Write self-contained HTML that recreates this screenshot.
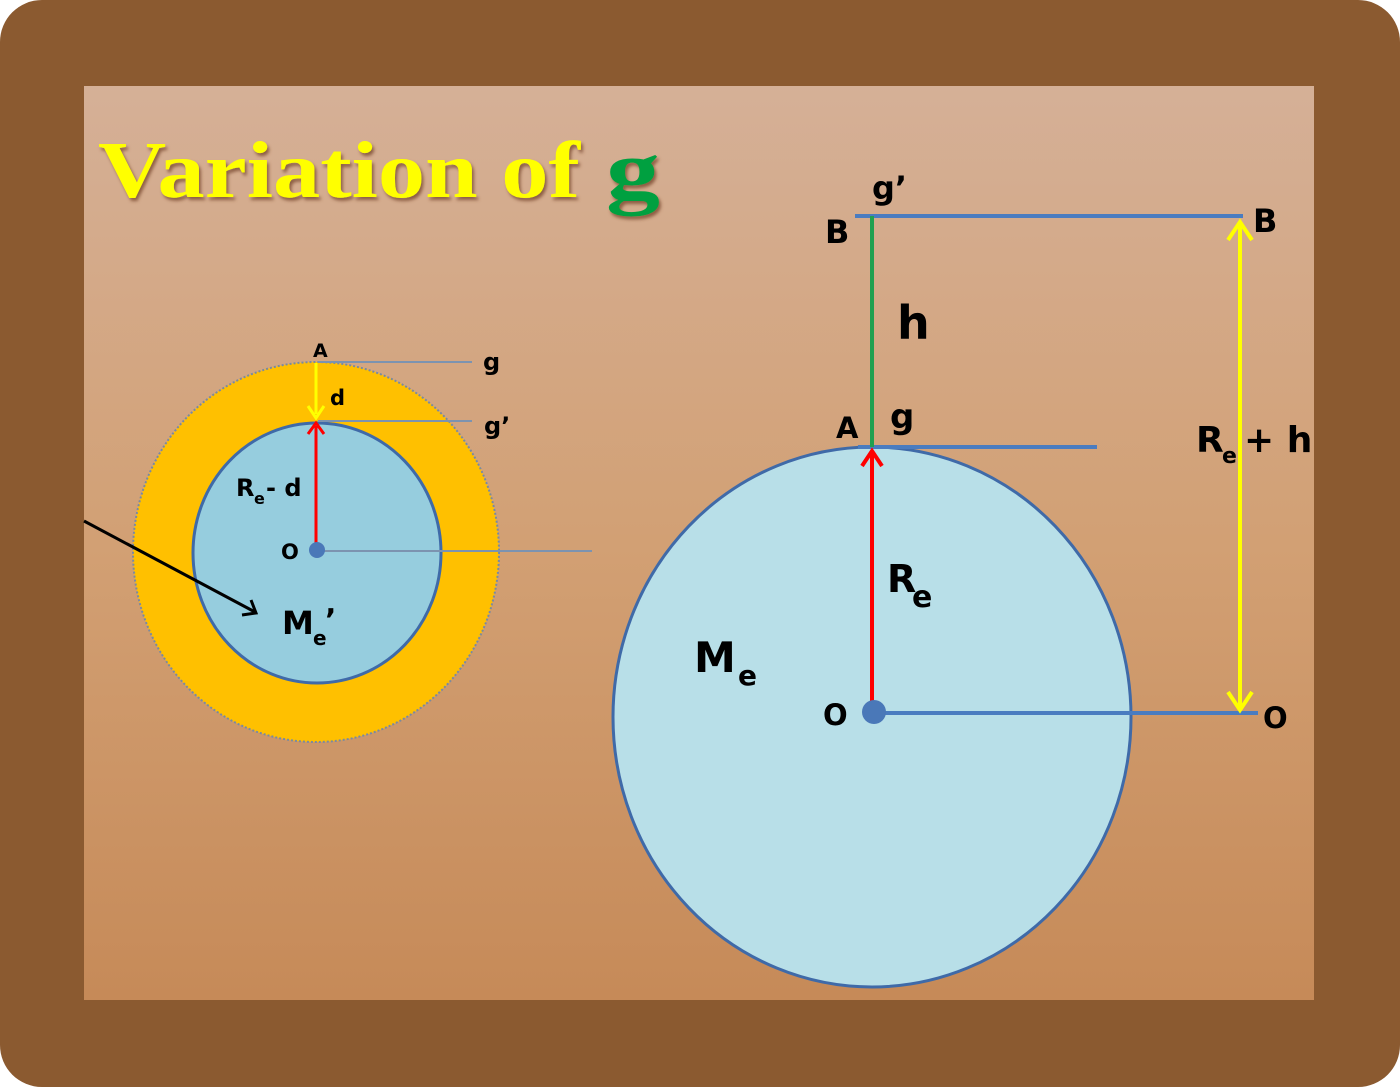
<!DOCTYPE html>
<html><head><style>
html,body{margin:0;padding:0;background:#fff;}
svg{display:block;}
text{font-family:"DejaVu Sans","Liberation Sans",sans-serif;font-weight:bold;}
</style></head><body>
<svg width="1400" height="1087" viewBox="0 0 1400 1087" xmlns="http://www.w3.org/2000/svg">
<defs>
<linearGradient id="bg" x1="0" y1="0" x2="0" y2="1">
<stop offset="0" stop-color="#D5B097"/>
<stop offset="0.5" stop-color="#D2A074"/>
<stop offset="1" stop-color="#C68A58"/>
</linearGradient>
<filter id="sh"><feDropShadow dx="2" dy="3" stdDeviation="1.5" flood-color="#7a4a30" flood-opacity="0.8"/></filter>
</defs>
<rect x="0" y="0" width="1400" height="1087" rx="42" fill="#8B5A30"/>
<rect x="84" y="86" width="1230" height="914" fill="url(#bg)"/>
<text x="98" y="197" font-size="80" style="font-family:'Liberation Serif',serif;font-weight:bold;fill:#FFFF00" filter="url(#sh)" textLength="482" lengthAdjust="spacingAndGlyphs">Variation of</text>
<text x="606" y="198" font-size="84" style="font-family:'Liberation Serif',serif;font-weight:bold;fill:#00A040" filter="url(#sh)" textLength="54" lengthAdjust="spacingAndGlyphs">g</text>

<!-- left diagram -->
<ellipse cx="316" cy="552" rx="183" ry="190" fill="#FFC000" stroke="#7A8AA0" stroke-width="2" stroke-dasharray="2,2"/>
<ellipse cx="317" cy="553" rx="124" ry="130" fill="#96CDDE" stroke="#3F6AA8" stroke-width="3"/>
<line x1="318" y1="362" x2="472" y2="362" stroke="#7C93B0" stroke-width="2"/>
<line x1="318" y1="421" x2="472" y2="421" stroke="#7C93B0" stroke-width="2"/>
<line x1="318" y1="551" x2="592" y2="551" stroke="#7C93B0" stroke-width="2"/>
<line x1="316" y1="363" x2="316" y2="414" stroke="#FFFF00" stroke-width="3"/>
<polyline points="308,406 316,418 324,406" fill="none" stroke="#FFFF00" stroke-width="3"/>
<line x1="316" y1="548" x2="316" y2="426" stroke="#FF0000" stroke-width="3"/>
<polyline points="308,434 316,423 324,434" fill="none" stroke="#FF0000" stroke-width="3"/>
<circle cx="317" cy="550" r="8" fill="#4A78B8"/>
<line x1="84" y1="521" x2="255" y2="612" stroke="#000" stroke-width="3"/>
<polyline points="242,615 256,613 251,600" fill="none" stroke="#000" stroke-width="3"/>
<text x="313" y="357" font-size="19">A</text>
<text x="483" y="370" font-size="24">g</text>
<text x="484" y="434" font-size="24">g’</text>
<text x="330" y="405" font-size="21">d</text>
<text x="236" y="496" font-size="24">R</text>
<text x="254" y="504" font-size="16">e</text>
<text x="266" y="496" font-size="24">- d</text>
<text x="281" y="559" font-size="21">O</text>
<text x="282" y="634" font-size="32">M</text>
<text x="313" y="645" font-size="20">e</text>
<text x="325" y="630" font-size="30">’</text>

<!-- right diagram -->
<ellipse cx="872" cy="717" rx="259" ry="270" fill="#B8DFE8" stroke="#3F6AA8" stroke-width="3"/>
<line x1="855" y1="216" x2="1243" y2="216" stroke="#4A7CC0" stroke-width="4"/>
<line x1="858" y1="447" x2="1097" y2="447" stroke="#4A7CC0" stroke-width="4"/>
<line x1="875" y1="713" x2="1258" y2="713" stroke="#4A7CC0" stroke-width="4"/>
<line x1="872" y1="216" x2="872" y2="447" stroke="#20A050" stroke-width="4"/>
<line x1="872" y1="711" x2="872" y2="452" stroke="#FF0000" stroke-width="4"/>
<polyline points="862,466 872,451 882,466" fill="none" stroke="#FF0000" stroke-width="4"/>
<circle cx="874" cy="712" r="12" fill="#4A78B8"/>
<line x1="1240" y1="222" x2="1240" y2="708" stroke="#FFFF00" stroke-width="4"/>
<polyline points="1228,240 1240,222 1252,240" fill="none" stroke="#FFFF00" stroke-width="4"/>
<polyline points="1228,692 1240,710 1252,692" fill="none" stroke="#FFFF00" stroke-width="4"/>
<text x="872" y="199" font-size="32">g’</text>
<text x="825" y="243" font-size="32">B</text>
<text x="1253" y="232" font-size="32">B</text>
<text x="897" y="339" font-size="46">h</text>
<text x="836" y="438" font-size="29">A</text>
<text x="890" y="428" font-size="34">g</text>
<text x="1196" y="452" font-size="36">R</text>
<text x="1222" y="463" font-size="22">e</text>
<text x="1244" y="452" font-size="36">+ h</text>
<text x="887" y="592" font-size="38">R</text>
<text x="912" y="607" font-size="30">e</text>
<text x="694" y="672" font-size="42">M</text>
<text x="738" y="685" font-size="28">e</text>
<text x="823" y="725" font-size="29">O</text>
<text x="1263" y="728" font-size="29">O</text>
</svg>
</body></html>
